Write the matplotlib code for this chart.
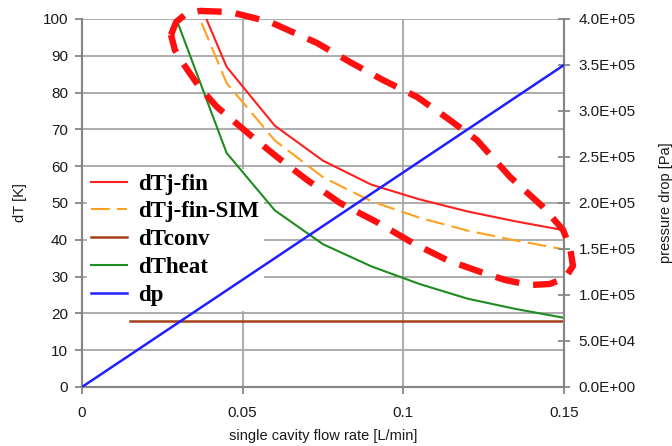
import numpy as np
import matplotlib
matplotlib.use('Agg')
import matplotlib.pyplot as plt

plt.rcParams['font.family'] = ['Liberation Sans', 'DejaVu Sans']

# flow rate [L/min]
flow = [0.03, 0.045, 0.06, 0.075, 0.09, 0.105, 0.12, 0.135, 0.15]
dTj_fin = [118, 87, 71, 61.5, 55, 51, 47.7, 45, 42.6]
dTj_fin_sim = [114, 82.6, 67, 57, 50.5, 46, 42.5, 39.8, 37.4]
dTheat = [98.5, 63.6, 48, 38.8, 32.8, 28, 24, 21.2, 18.8]

flow_conv = [0.015, 0.15]
dTconv = [17.8, 17.8]

flow_dp = [0, 0.15]
dp = [0, 3.5e5]

# hand-drawn dashed loop around the fin curves (data coords)
loop_x = [0.0277, 0.0293, 0.0324, 0.0367, 0.0461, 0.0585, 0.0731, 0.0834, 0.0937,
          0.1043, 0.1136, 0.1229, 0.1332, 0.1435, 0.1497, 0.1519, 0.1528, 0.1503,
          0.1456, 0.1394, 0.1316, 0.1239, 0.1136, 0.1030, 0.0918, 0.0803, 0.0700,
          0.0607, 0.0523, 0.0420, 0.0367, 0.0314, 0.0289, 0.0277]
loop_y = [95.7, 99.2, 101.4, 102.2, 101.9, 99.2, 93.5, 88.3, 83.4,
          78.8, 73.1, 67.1, 57.1, 48.9, 42.7, 37.8, 32.9, 29.6,
          28.0, 27.7, 29.1, 31.3, 34.5, 39.1, 44.8, 50.0, 56.3,
          62.5, 68.5, 76.1, 81.3, 88.0, 91.6, 95.7]

fig = plt.figure(figsize=(6.72, 4.46), dpi=100)
ax = fig.add_axes([82/672, 59/446, 482/672, 368/446])
ax2 = ax.twinx()

grid_c = '#a6a6a6'
spine_c = '#868686'

ax.set_xlim(0, 0.15)
ax.set_ylim(0, 100)
ax2.set_ylim(0, 4e5)

ax.set_xticks([0, 0.05, 0.1, 0.15])
ax.set_xticklabels(['0', '0.05', '0.1', '0.15'])
ax.set_yticks(range(0, 101, 10))
ax2.set_yticks(np.arange(0, 4.01e5, 5e4))
ax2.set_yticklabels(['%.1E' % v for v in np.arange(0, 4.01e5, 5e4)])

for y in range(10, 101, 10):
    ax.axhline(y, color=grid_c, lw=1.3, zorder=0.5)
for x in [0.05, 0.1]:
    ax.axvline(x, color=grid_c, lw=1.3, zorder=0.5)

ax.plot(flow, dTj_fin, color='#ff2020', lw=1.5, label='dTj-fin', zorder=3)
ax.plot(flow, dTj_fin_sim, color='#ffa020', lw=1.5, dashes=(9, 3.5), label='dTj-fin-SIM', zorder=3)
ax.plot(flow_conv, dTconv, color='#a8401c', lw=1.8, label='dTconv', zorder=3)
ax.plot(flow, dTheat, color='#1f8c1f', lw=1.5, label='dTheat', zorder=3)
l_dp, = ax2.plot(flow_dp, dp, color='#2020ff', lw=1.8, label='dp', zorder=3)

ax2.plot(loop_x, [v * 4e3 for v in loop_y], color='#ff1010', lw=4.6, dashes=(3.8, 2.2),
         solid_joinstyle='round', clip_on=False, zorder=4)

for s in ['top']:
    ax.spines[s].set_visible(False)
    ax2.spines[s].set_visible(False)
for a in (ax, ax2):
    for s in ['left', 'bottom', 'right']:
        a.spines[s].set_color(spine_c)
        a.spines[s].set_linewidth(1.5)

ax.tick_params(axis='both', which='major', color=spine_c, width=1.3, length=5,
               labelsize=11, pad=5, labelcolor='#1a1a1a')
ax.tick_params(axis='x', pad=9)
ax2.tick_params(axis='y', direction='inout', color=spine_c, width=1.3, length=9,
                labelsize=11, pad=6, labelcolor='#1a1a1a')

ax.set_xlabel('single cavity flow rate [L/min]', fontsize=10.5, labelpad=6, color='#1a1a1a')
ax.set_ylabel('dT [K]', fontsize=10.5, labelpad=11, color='#1a1a1a')
ax2.set_ylabel('pressure drop [Pa]', fontsize=10.5, labelpad=17, color='#1a1a1a')

h, l = ax.get_legend_handles_labels()
leg = ax.legend(h + [l_dp], l + ['dp'], loc='upper left', bbox_to_anchor=(0.0, 0.605),
                frameon=True, framealpha=1, facecolor='white', edgecolor='none',
                prop={'family': 'Liberation Serif', 'weight': 'bold', 'size': 16.5},
                handlelength=1.55, handletextpad=0.5, labelspacing=0.3,
                borderpad=0.2, borderaxespad=0.2)
leg.set_zorder(2)

fig.savefig('out.png', dpi=100)
